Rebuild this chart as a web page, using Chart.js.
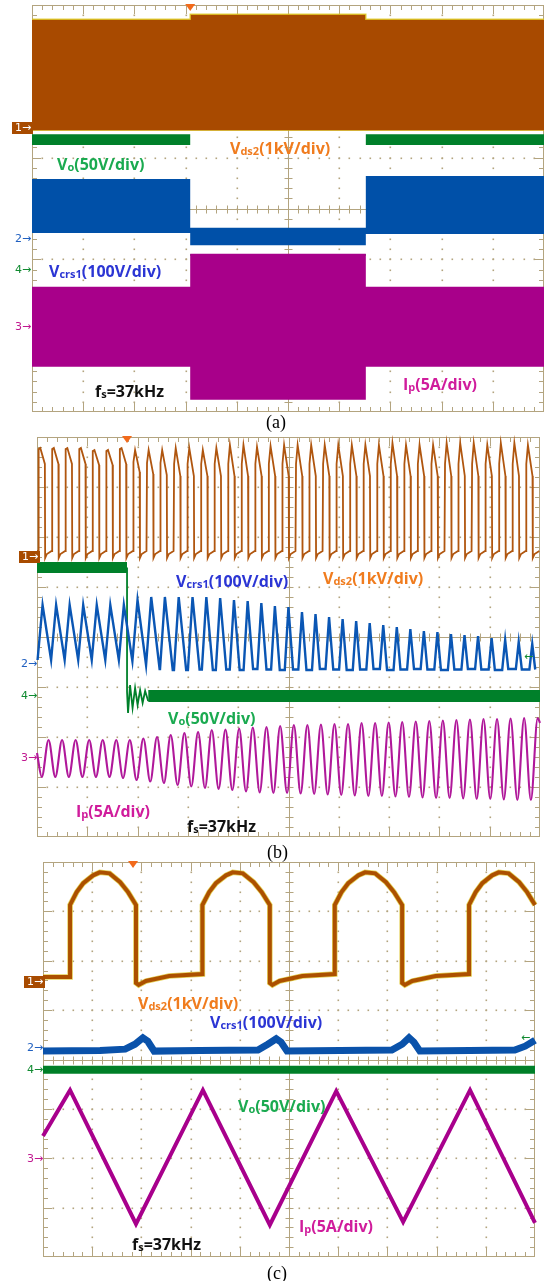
<!DOCTYPE html>
<html>
<head>
<meta charset="utf-8">
<title>Waveforms (a) (b) (c)</title>
<script src="https://cdn.jsdelivr.net/npm/chart.js"></script>
<style>
  html, body { margin: 0; padding: 0; background: #fff; }
  body { position: relative; width: 547px; height: 1281px; overflow: hidden; }
  canvas { position: absolute; }
  .lbl { position: absolute; font: 700 16px 'Open Sans', sans-serif; line-height: 16px; white-space: nowrap; }
  .lbl sub { font-size: 11px; line-height: 0; position: relative; top: 1px; vertical-align: baseline; }
  .cap { position: absolute; font: 18px 'Liberation Serif', serif; line-height: 18px; }
  .ch { position: absolute; font: 11px 'DejaVu Sans', sans-serif; line-height: 12px; white-space: nowrap; }
  .ch1 { background: #a84b00; color: #fff; padding: 0 2px 0 3px; }
</style>
</head>
<body>
<canvas id="scopeA"></canvas>
<canvas id="scopeB"></canvas>
<canvas id="scopeC"></canvas>

<!-- (a) -->
<div class="lbl" style="left:57px;top:156px;color:#1aaa50">V<sub>o</sub>(50V/div)</div>
<div class="lbl" style="left:230px;top:140px;color:#f07c1e">V<sub>ds2</sub>(1kV/div)</div>
<div class="lbl" style="left:49px;top:263px;color:#2b35d4">V<sub>crs1</sub>(100V/div)</div>
<div class="lbl" style="left:95px;top:383px;color:#111">f<sub>s</sub>=37kHz</div>
<div class="lbl" style="left:403px;top:376px;color:#d01c9c">I<sub>p</sub>(5A/div)</div>
<div class="cap" style="left:266px;top:413px">(a)</div>
<div class="ch ch1" style="left:12px;top:122px">1&rarr;</div>
<div class="ch" style="left:15px;top:233px;color:#2060c0">2&rarr;</div>
<div class="ch" style="left:15px;top:264px;color:#108a30">4&rarr;</div>
<div class="ch" style="left:15px;top:321px;color:#c01890">3&rarr;</div>

<!-- (b) -->
<div class="lbl" style="left:176px;top:573px;color:#2b35d4">V<sub>crs1</sub>(100V/div)</div>
<div class="lbl" style="left:323px;top:570px;color:#f07c1e">V<sub>ds2</sub>(1kV/div)</div>
<div class="lbl" style="left:168px;top:710px;color:#1aaa50">V<sub>o</sub>(50V/div)</div>
<div class="lbl" style="left:76px;top:803px;color:#d01c9c">I<sub>p</sub>(5A/div)</div>
<div class="lbl" style="left:187px;top:818px;color:#111">f<sub>s</sub>=37kHz</div>
<div class="cap" style="left:267px;top:843px">(b)</div>
<div class="ch ch1" style="left:19px;top:551px">1&rarr;</div>
<div class="ch" style="left:21px;top:658px;color:#2060c0">2&rarr;</div>
<div class="ch" style="left:21px;top:690px;color:#108a30">4&rarr;</div>
<div class="ch" style="left:21px;top:752px;color:#c01890">3&rarr;</div>
<div class="ch" style="left:524px;top:651px;color:#108a30">&larr;</div>

<!-- (c) -->
<div class="lbl" style="left:138px;top:995px;color:#f07c1e">V<sub>ds2</sub>(1kV/div)</div>
<div class="lbl" style="left:210px;top:1014px;color:#2b35d4">V<sub>crs1</sub>(100V/div)</div>
<div class="lbl" style="left:238px;top:1098px;color:#1aaa50">V<sub>o</sub>(50V/div)</div>
<div class="lbl" style="left:299px;top:1218px;color:#d01c9c">I<sub>p</sub>(5A/div)</div>
<div class="lbl" style="left:132px;top:1236px;color:#111">f<sub>s</sub>=37kHz</div>
<div class="cap" style="left:267px;top:1264px">(c)</div>
<div class="ch ch1" style="left:24px;top:976px">1&rarr;</div>
<div class="ch" style="left:27px;top:1042px;color:#2060c0">2&rarr;</div>
<div class="ch" style="left:27px;top:1064px;color:#108a30">4&rarr;</div>
<div class="ch" style="left:27px;top:1153px;color:#c01890">3&rarr;</div>
<div class="ch" style="left:521px;top:1032px;color:#108a30">&larr;</div>

<script>
// all values are in screen divisions: x 0..10, y -4..4 (0 = centre line)

// ---- (a) envelopes, one value per time segment ----
const aEdges = [0, 3.09, 6.52, 10];
const aVdsTop = [3.72, 3.82, 3.72];
const aVdsBot = [1.54, 1.54, 1.54];
const aVoTop = [1.46, -0.90, 1.46];
const aVoBot = [1.25, -0.93, 1.25];
const aCrsTop = [0.58, -0.38, 0.64];
const aCrsBot = [-0.48, -0.72, -0.50];
const aIpTop = [-1.54, -0.89, -1.54];
const aIpBot = [-3.11, -3.76, -3.11];

// ---- (b) one value per switching cycle (37 cycles) ----
const bStart = 0.03;      // first rising edge of Vds2
const bPeriod = 0.2693;   // one switching period
const bVdsPeak = [3.78, 3.78, 3.78, 3.78, 3.74, 3.74, 3.78,
  3.74, 3.74, 3.74, 3.78, 3.78, 3.74, 3.78, 3.84, 3.84, 3.80, 3.82,
  3.84, 3.84, 3.84, 3.84, 3.84, 3.84, 3.84, 3.84, 3.88, 3.84, 3.84, 3.84, 3.88, 3.88, 3.88, 3.84, 3.88, 3.88, 3.84];
const bVdsRise = [3.76, 3.76, 3.76, 3.76, 3.72, 3.72, 3.76,
  3.50, 3.48, 3.48, 3.46, 3.46, 3.46, 3.46, 3.46, 3.46, 3.46, 3.46,
  3.46, 3.46, 3.46, 3.46, 3.46, 3.46, 3.46, 3.46, 3.46, 3.46, 3.46, 3.46, 3.46, 3.46, 3.46, 3.46, 3.46, 3.46, 3.46];
const bVdsEnd = [3.46, 3.46, 3.46, 3.46, 3.44, 3.44, 3.46,
  3.30, 3.26, 3.24, 3.22, 3.22, 3.22, 3.22, 3.22, 3.22, 3.22, 3.22,
  3.22, 3.22, 3.22, 3.22, 3.22, 3.22, 3.22, 3.22, 3.22, 3.22, 3.22, 3.22, 3.22, 3.22, 3.22, 3.22, 3.22, 3.22, 3.22];
const bVdsPhase = [0, 0.01, 0.13, 0.47, 0.49, 0.62, 0.97];   // rise, rise top, peak, end, drop, low, low end
const bVdsLow = [1.58, 1.66, 1.72];

const bCrsPeak = [0.64, 0.64, 0.64, 0.64, 0.64, 0.64, 0.64,
  0.74, 0.80, 0.80, 0.80, 0.80, 0.80, 0.78, 0.74, 0.72, 0.68, 0.62,
  0.60, 0.50, 0.46, 0.40, 0.36, 0.32, 0.28, 0.24, 0.20, 0.16, 0.12, 0.10, 0.06, 0.04, 0.02, -0.02, -0.06, -0.10, -0.14];
const bCrsLow = [-0.46, -0.46, -0.46, -0.46, -0.46, -0.46, -0.48,
  -0.56, -0.64, -0.66, -0.66, -0.65, -0.66, -0.65, -0.66, -0.64, -0.65, -0.66,
  -0.65, -0.66, -0.64, -0.65, -0.66, -0.65, -0.64, -0.66, -0.65, -0.64, -0.65, -0.66, -0.65, -0.64, -0.65, -0.66, -0.64, -0.65, -0.65];
const bCrsPhase = [0.30, 0.30, 0.30, 0.30, 0.30, 0.30, 0.30,
  0.31, 0.32, 0.33, 0.35, 0.37, 0.39, 0.41, 0.43, 0.44, 0.45, 0.45,
  0.45, 0.45, 0.45, 0.45, 0.45, 0.45, 0.45, 0.45, 0.45, 0.45, 0.45, 0.45, 0.45, 0.45, 0.45, 0.45, 0.45, 0.45, 0.45];
const bCrsRise = [0.37, 0.37, 0.37, 0.37, 0.37, 0.37, 0.37,
  0.37, 0.37, 0.36, 0.35, 0.34, 0.33, 0.32, 0.31, 0.30, 0.29, 0.28,
  0.27, 0.27, 0.26, 0.26, 0.26, 0.25, 0.25, 0.25, 0.24, 0.24, 0.24, 0.23, 0.23, 0.23, 0.22, 0.22, 0.22, 0.21, 0.21];
const bCrsFall = [0.63, 0.63, 0.63, 0.63, 0.63, 0.63, 0.63,
  0.63, 0.62, 0.58, 0.55, 0.52, 0.48, 0.45, 0.42, 0.40, 0.38, 0.36,
  0.34, 0.33, 0.32, 0.31, 0.30, 0.29, 0.28, 0.28, 0.27, 0.27, 0.26, 0.26, 0.25, 0.25, 0.24, 0.24, 0.23, 0.23, 0.22];

const bIpPeak = [-2.06, -2.06, -2.06, -2.06, -2.06, -2.06, -2.06,
  -2.03, -2.00, -1.96, -1.92, -1.90, -1.86, -1.85, -1.83, -1.81, -1.80, -1.78,
  -1.76, -1.76, -1.75, -1.74, -1.74, -1.72, -1.72, -1.71, -1.70, -1.69, -1.68, -1.67, -1.66, -1.65, -1.64, -1.64, -1.63, -1.62, -1.62];
const bIpTrough = [-2.80, -2.80, -2.80, -2.80, -2.80, -2.80, -2.82,
  -2.86, -2.89, -2.92, -2.96, -2.99, -3.02, -3.04, -3.06, -3.09, -3.11, -3.12,
  -3.12, -3.13, -3.14, -3.15, -3.16, -3.17, -3.18, -3.18, -3.19, -3.20, -3.21, -3.22, -3.22, -3.23, -3.24, -3.24, -3.25, -3.26, -3.26];
const bIpPhase = [0.74, 0.74, 0.74, 0.74, 0.74, 0.74, 0.74,
  0.74, 0.75, 0.76, 0.77, 0.78, 0.79, 0.80, 0.81, 0.82, 0.83, 0.84,
  0.85, 0.85, 0.85, 0.85, 0.85, 0.85, 0.85, 0.85, 0.85, 0.85, 0.85, 0.85, 0.85, 0.85, 0.85, 0.85, 0.85, 0.85, 0.85];

const bVoStep = 1.79;                 // Vo collapses here
const bVoBefore = [1.50, 1.28];       // band top, bottom
const bVoRingX = [1.79, 1.79, 1.81, 1.85, 1.90, 1.95, 2.00, 2.05, 2.10, 2.15, 2.21];
const bVoRingY = [1.39, -1.10, -1.52, -0.96, -1.42, -1.02, -1.36, -1.06, -1.32, -1.08, -1.28];
const bVoAfter = [-1.06, -1.30];

// ---- (c) vertices ----
const cVdsStart = 1.67;
const cVdsRise = [0.55, 3.24, 5.93, 8.66];
const cVdsFall = [1.89, 4.61, 7.30, 10.0];
const cVdsArcT = [0, 0.1, 0.2, 0.35, 0.45, 0.6, 0.76, 0.88, 1];
const cVdsArcY = [3.13, 3.39, 3.57, 3.73, 3.79, 3.77, 3.59, 3.39, 3.13];
const cVdsLowT = [0, 0.04, 0.15, 0.5, 1];
const cVdsLowY = [1.55, 1.51, 1.59, 1.69, 1.73];

const cCrsX = [0, 1.16, 1.67, 1.87, 2.03, 2.13, 2.26, 3.19, 4.37, 4.57, 4.74, 4.84, 4.96, 6.04, 7.09, 7.30, 7.44, 7.54, 7.66, 8.68, 9.59, 9.80, 10];
const cCrsY = [0.17, 0.18, 0.21, 0.31, 0.44, 0.37, 0.17, 0.18, 0.19, 0.31, 0.42, 0.35, 0.17, 0.18, 0.19, 0.31, 0.44, 0.35, 0.17, 0.18, 0.19, 0.27, 0.39];

const cVoX = [0, 10];
const cVoY = [-0.21, -0.21];

const cIpX = [0, 0.55, 1.89, 3.25, 4.61, 5.96, 7.32, 8.68, 10];
const cIpY = [-1.55, -0.62, -3.33, -0.62, -3.35, -0.64, -3.29, -0.62, -3.31];

// ---------------------------------------------------------------
const GRID = '#b3a47f';
const P = 8;

const graticule = {
  id: 'graticule',
  beforeDatasetsDraw(chart) {
    const { ctx, chartArea: a, scales: { x, y } } = chart;
    const X = v => Math.round(x.getPixelForValue(v)) + 0.5;
    const Y = v => Math.round(y.getPixelForValue(v)) + 0.5;
    ctx.save();
    ctx.fillStyle = GRID;
    for (let i = 1; i < 10; i++) {
      if (i === 5) continue;
      for (let k = 1; k < 40; k++) ctx.fillRect(X(i) - 1, Y(-4 + k * 0.2) - 1, 1.6, 1.6);
    }
    for (let j = -3; j <= 3; j++) {
      if (j === 0) continue;
      for (let k = 1; k < 50; k++) ctx.fillRect(X(k * 0.2) - 1, Y(j) - 1, 1.6, 1.6);
    }
    ctx.strokeStyle = GRID;
    ctx.lineWidth = 1;
    ctx.beginPath();
    ctx.moveTo(X(5), a.top); ctx.lineTo(X(5), a.bottom);
    ctx.moveTo(a.left, Y(0)); ctx.lineTo(a.right, Y(0));
    for (let k = 1; k < 50; k++) {
      const px = X(k * 0.2), big = k % 5 === 0 ? 9 : 5;
      ctx.moveTo(px, Y(0) - 4); ctx.lineTo(px, Y(0) + 4);
      ctx.moveTo(px, a.top); ctx.lineTo(px, a.top + big);
      ctx.moveTo(px, a.bottom); ctx.lineTo(px, a.bottom - big);
    }
    for (let k = 1; k < 40; k++) {
      const py = Y(-4 + k * 0.2), big = k % 5 === 0 ? 9 : 5;
      ctx.moveTo(X(5) - 4, py); ctx.lineTo(X(5) + 4, py);
      ctx.moveTo(a.left, py); ctx.lineTo(a.left + big, py);
      ctx.moveTo(a.right, py); ctx.lineTo(a.right - big, py);
    }
    ctx.stroke();
    ctx.strokeRect(Math.round(a.left) + 0.5, Math.round(a.top) + 0.5, Math.round(a.right - a.left) - 1, Math.round(a.bottom - a.top) - 1);
    ctx.restore();
  },
  afterDatasetsDraw(chart, args, opts) {
    const { ctx, chartArea: a, scales: { x } } = chart;
    const tx = x.getPixelForValue(opts.trigX);
    ctx.save();
    ctx.fillStyle = '#f26a1b';
    ctx.beginPath();
    ctx.moveTo(tx - 5, a.top - 1); ctx.lineTo(tx + 5, a.top - 1); ctx.lineTo(tx, a.top + 6);
    ctx.closePath(); ctx.fill();
    ctx.restore();
  }
};

function pts(xs, ys) { return xs.map((v, i) => ({ x: v, y: ys[i] })); }

function steps(edges, vals) {
  const out = [];
  vals.forEach((v, i) => { out.push({ x: edges[i], y: v }, { x: edges[i + 1], y: v }); });
  return out;
}

function trace(data, color, width, order, extra) {
  return Object.assign({ data, borderColor: color, borderWidth: width, fill: false, order, pointRadius: 0, clip: 6 }, extra || {});
}

function band(up, lo, color, order, edge) {
  const w = edge ? 1.5 : 0;
  return [
    { data: up, borderColor: edge || 'transparent', borderWidth: w, backgroundColor: color, fill: '+1', order, pointRadius: 0, clip: 6 },
    { data: lo, borderColor: edge || 'transparent', borderWidth: w, fill: false, order, pointRadius: 0, clip: 6 }
  ];
}

function scope(id, rect, datasets, trigX) {
  const cv = document.getElementById(id);
  cv.width = rect.w + 2 * P;
  cv.height = rect.h + 2 * P;
  cv.style.left = (rect.x - P) + 'px';
  cv.style.top = (rect.y - P) + 'px';
  return new Chart(cv, {
    type: 'line',
    data: { datasets },
    options: {
      responsive: false,
      animation: false,
      events: [],
      layout: { padding: P },
      elements: { line: { tension: 0 }, point: { radius: 0 } },
      plugins: { legend: { display: false }, tooltip: { enabled: false }, graticule: { trigX } },
      scales: {
        x: { type: 'linear', min: 0, max: 10, display: false },
        y: { type: 'linear', min: -4, max: 4, display: false }
      }
    },
    plugins: [graticule]
  });
}

// ---- (a) ----
scope('scopeA', { x: 32, y: 5, w: 512, h: 407 }, [
  ...band(steps(aEdges, aIpTop), steps(aEdges, aIpBot), '#a8008a', 1),
  ...band(steps(aEdges, aCrsTop), steps(aEdges, aCrsBot), '#0050a8', 2),
  ...band(steps(aEdges, aVdsTop), steps(aEdges, aVdsBot), '#a84a00', 3, 'rgba(222,200,30,0.8)'),
  ...band(steps(aEdges, aVoTop), steps(aEdges, aVoBot), '#00802a', 5)
], 3.09);

// ---- (b) ----
const bVds = [{ x: 0, y: bVdsLow[2] }];
const bCrs = [];
const bIp = [{ x: 0, y: -2.32 }];
bVdsPeak.forEach((pk, i) => {
  const t0 = bStart + i * bPeriod;
  const at = f => t0 + f * bPeriod;
  const lv = [bVdsLow[2], bVdsRise[i], pk, bVdsEnd[i], bVdsLow[0], bVdsLow[1], bVdsLow[2]];
  bVdsPhase.forEach((f, k) => bVds.push({ x: at(f), y: lv[k] }));

  const tp = at(bCrsPhase[i]);
  bCrs.push({ x: tp - bCrsRise[i] * bPeriod, y: i ? bCrsLow[i - 1] : bCrsLow[0] });
  bCrs.push({ x: tp, y: bCrsPeak[i] });
  bCrs.push({ x: tp + bCrsFall[i] * bPeriod, y: bCrsLow[i] });

  bIp.push({ x: at(bIpPhase[i] - 0.5), y: bIpTrough[i] });
  bIp.push({ x: at(bIpPhase[i]), y: bIpPeak[i] });
});
bIp.push({ x: 10, y: -1.72 });

const bVoEnd = bVoRingX[bVoRingX.length - 1];
scope('scopeB', { x: 37, y: 437, w: 503, h: 400 }, [
  trace(bIp, '#b0189a', 2.1, 1, { cubicInterpolationMode: 'monotone' }),
  trace(bCrs, '#0a56b4', 2.4, 2),
  trace(bVds, '#b0560f', 1.8, 3),
  ...band(steps([0, bVoStep], [bVoBefore[0]]), steps([0, bVoStep], [bVoBefore[1]]), '#00802a', 4),
  trace(pts(bVoRingX, bVoRingY), '#00802a', 1.8, 4),
  ...band(steps([bVoEnd, 10], [bVoAfter[0]]), steps([bVoEnd, 10], [bVoAfter[1]]), '#00802a', 4)
], 1.79);

// ---- (c) ----
const cVds = [{ x: 0, y: cVdsStart }, { x: cVdsRise[0], y: cVdsStart }];
cVdsRise.forEach((r, i) => {
  const f = cVdsFall[i];
  cVdsArcT.forEach((t, k) => cVds.push({ x: r + t * (f - r), y: cVdsArcY[k] }));
  if (i + 1 < cVdsRise.length) {
    const n = cVdsRise[i + 1];
    cVdsLowT.forEach((t, k) => cVds.push({ x: f + t * (n - f), y: cVdsLowY[k] }));
  }
});

scope('scopeC', { x: 43, y: 862, w: 492, h: 395 }, [
  trace(pts(cIpX, cIpY), '#a8008c', 4, 1),
  trace(pts(cCrsX, cCrsY), '#0a52aa', 7, 2),
  trace(cVds, '#ac5000', 4, 3),
  trace(cVds, 'rgba(220,194,30,0.75)', 5.5, 4),
  trace(pts(cVoX, cVoY), '#007f28', 8, 5)
], 1.83);
</script>
</body>
</html>
